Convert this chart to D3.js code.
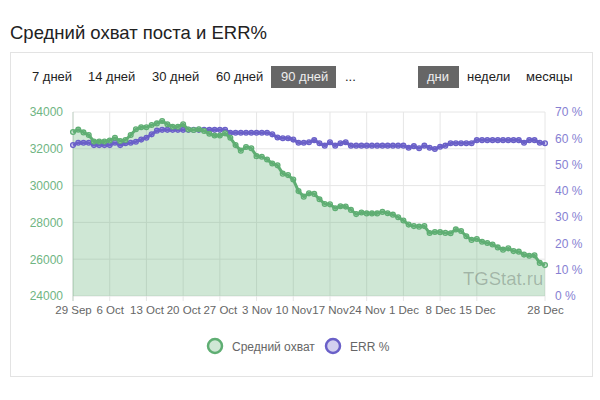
<!DOCTYPE html>
<html>
<head>
<meta charset="utf-8">
<script src="https://cdn.jsdelivr.net/npm/d3@7"></script>
<style>
  html, body { margin: 0; padding: 0; background: #fff; }
  body { width: 600px; height: 400px; overflow: hidden; font-family: "Liberation Sans", Arial, Helvetica, sans-serif; }
</style>
</head>
<body>
<svg id="chart" width="600" height="400"></svg>
<script>
// ---- data ----
const title = "Средний охват поста и ERR%";
const periodButtons = ["7 дней", "14 дней", "30 дней", "60 дней", "90 дней", "..."];
const groupButtons = ["дни", "недели", "месяцы"];
const tickDays = [0, 7, 14, 21, 28, 35, 42, 49, 56, 63, 70, 77, 90];
const tickLabels = ["29 Sep", "6 Oct", "13 Oct", "20 Oct", "27 Oct", "3 Nov", "10 Nov", "17 Nov", "24 Nov", "1 Dec", "8 Dec", "15 Dec", "28 Dec"];
const leftTicks = [24000, 26000, 28000, 30000, 32000, 34000];
const rightTicks = [0, 10, 20, 30, 40, 50, 60, 70];
const seriesNames = ["Средний охват", "ERR %"];
const reach = [
  32910, 33040, 32890, 32750, 32390, 32390, 32390, 32450, 32600, 32420,
  32480, 32750, 33060, 33170, 33170, 33290, 33380, 33510, 33330, 33200,
  33200, 33330, 33050, 33020, 33060, 32970, 32820, 32720, 32720, 32840,
  32600, 32200, 31900, 32100, 32030, 31600, 31570, 31420, 31200, 31100,
  30650, 30570, 30330, 29700, 29400, 29580, 29550, 29260, 29000, 28980,
  28770, 28880, 28860, 28680, 28450, 28540, 28490, 28490, 28490, 28570,
  28500, 28420, 28280, 28100, 27880, 27800, 27770, 27800, 27420, 27480,
  27470, 27430, 27410, 27620, 27530, 27250, 27050, 27100, 26950, 26880,
  26800, 26640, 26520, 26590, 26440, 26410, 26250, 26190, 26210, 25800,
  25680
];
const err = [
  57.4, 58.3, 58.3, 58.3, 57.4, 57.4, 57.4, 57.4, 58.3, 57.4,
  58.1, 58.3, 58.7, 59.5, 60.2, 61.5, 62.9, 63.2, 63.2, 63.2,
  63.2, 63.2, 63.2, 63.2, 63.2, 63.2, 63.2, 63.2, 63.2, 63.2,
  62.1, 62.1, 62.1, 62.1, 62.1, 62.1, 62.1, 62.1, 61.5, 60.3,
  60.0, 60.0, 59.5, 58.3, 58.3, 58.5, 59.3, 58.1, 57.2, 58.5,
  57.2, 58.1, 58.5, 57.2, 57.2, 57.2, 57.2, 57.2, 57.2, 57.2,
  57.2, 57.2, 57.2, 57.2, 56.4, 57.0, 56.2, 57.2, 56.4, 55.9,
  56.8, 57.2, 58.1, 58.1, 58.1, 58.1, 58.1, 59.3, 59.3, 59.3,
  59.3, 59.3, 59.3, 59.3, 59.3, 59.3, 58.3, 59.3, 59.3, 58.3,
  58.1
];

// ---- styles ----
const GREEN = "#5fae73", GREEN_FILL = "rgba(95,174,115,0.30)", GREEN_PT = "#cfe7d5", GREEN_TXT = "#6fb583";
const PURPLE = "#6a60c8", PURPLE_PT = "#d3d0ef", PURPLE_TXT = "#8680d2";

const svg = d3.select("#chart");

// title
svg.append("text").attr("x", 10).attr("y", 39)
  .attr("font-size", 18.5).attr("fill", "#222").text(title);

// card
svg.append("rect").attr("x", 10.5).attr("y", 52.5).attr("width", 582).attr("height", 324)
  .attr("fill", "#fff").attr("stroke", "#e3e3e3").attr("stroke-width", 1);

// buttons
const periodX = [32, 88, 152, 216, 281, 345];
periodButtons.forEach((b, i) => {
  if (i === 4) {
    svg.append("rect").attr("x", 271).attr("y", 66).attr("width", 65).attr("height", 22).attr("fill", "#666");
  }
  svg.append("text").attr("x", periodX[i]).attr("y", 81).attr("font-size", 13)
    .attr("fill", i === 4 ? "#eee" : "#222").text(b);
});
const groupX = [427, 467, 526];
groupButtons.forEach((b, i) => {
  if (i === 0) {
    svg.append("rect").attr("x", 418).attr("y", 66).attr("width", 41).attr("height", 22).attr("fill", "#666");
  }
  svg.append("text").attr("x", groupX[i]).attr("y", 81).attr("font-size", 13)
    .attr("fill", i === 0 ? "#eee" : "#222").text(b);
});

// ---- scales ----
const L = 73, R = 545, T = 112, B = 296;
const x = d3.scaleLinear().domain([0, reach.length - 1]).range([L, R]);
const yL = d3.scaleLinear().domain([24000, 34000]).range([B, T]);
const yR = d3.scaleLinear().domain([0, 70]).range([B, T]);

// gridlines
const grid = svg.append("g");
grid.selectAll("line.h").data(leftTicks).join("line")
  .attr("x1", L).attr("x2", R).attr("y1", d => yL(d)).attr("y2", d => yL(d))
  .attr("stroke", "#e6e6e6").attr("stroke-width", 1);
grid.selectAll("line.v").data(tickDays.slice(1)).join("line")
  .attr("x1", d => x(d)).attr("x2", d => x(d)).attr("y1", T).attr("y2", B + 5)
  .attr("stroke", "#e6e6e6").attr("stroke-width", 1);
// left axis line
grid.append("line").attr("x1", L).attr("x2", L).attr("y1", T).attr("y2", B + 5)
  .attr("stroke", "#b8c9bc").attr("stroke-width", 1);

// area
const idx = d3.range(reach.length);
svg.append("path").datum(idx)
  .attr("d", d3.area().x(i => x(i)).y0(B).y1(i => yL(reach[i])))
  .attr("fill", GREEN_FILL);

// watermark
svg.append("text").attr("x", 463).attr("y", 285).attr("font-size", 18.5)
  .attr("fill", "rgba(0,0,0,0.22)").attr("font-weight", 300).text("TGStat.ru");

// axes
const axL = d3.axisLeft(yL).tickValues(leftTicks).tickSize(0).tickPadding(10).tickFormat(d3.format("d"));
const gL = svg.append("g").attr("transform", `translate(${L},0)`).call(axL);
gL.select(".domain").remove();
gL.selectAll("text").attr("fill", GREEN_TXT).attr("font-size", 12).attr("font-family", "Liberation Sans, Arial, sans-serif");

const axR = d3.axisRight(yR).tickValues(rightTicks).tickSize(0).tickPadding(10).tickFormat(d => d + " %");
const gR = svg.append("g").attr("transform", `translate(${R},0)`).call(axR);
gR.select(".domain").remove();
gR.selectAll("text").attr("fill", PURPLE_TXT).attr("font-size", 12).attr("font-family", "Liberation Sans, Arial, sans-serif");

const axB = d3.axisBottom(x).tickValues(tickDays).tickSize(0).tickPadding(10)
  .tickFormat((d, i) => tickLabels[i]);
const gB = svg.append("g").attr("transform", `translate(0,${B})`).call(axB);
gB.select(".domain").remove();
gB.selectAll("text").attr("fill", "#666").attr("font-size", 11.5).attr("font-family", "Liberation Sans, Arial, sans-serif");

// series
function drawSeries(vals, yScale, color, ptFill) {
  const g = svg.append("g");
  g.selectAll("circle").data(idx).join("circle")
    .attr("cx", i => x(i)).attr("cy", i => yScale(vals[i])).attr("r", 2.4)
    .attr("fill", ptFill).attr("stroke", color).attr("stroke-width", 1.3);
  g.append("path").datum(idx)
    .attr("d", d3.line().x(i => x(i)).y(i => yScale(vals[i])))
    .attr("fill", "none").attr("stroke", color).attr("stroke-width", 3)
    .attr("stroke-linejoin", "round");
}
drawSeries(err, yR, PURPLE, PURPLE_PT);
drawSeries(reach, yL, GREEN, GREEN_PT);

// legend
const legend = [
  { name: seriesNames[0], cx: 215, color: GREEN, fill: GREEN_PT },
  { name: seriesNames[1], cx: 333, color: PURPLE, fill: PURPLE_PT }
];
legend.forEach(l => {
  svg.append("circle").attr("cx", l.cx).attr("cy", 346).attr("r", 7)
    .attr("fill", l.fill).attr("stroke", l.color).attr("stroke-width", 2.5);
  svg.append("text").attr("x", l.cx + 17).attr("y", 350.5).attr("font-size", 12)
    .attr("fill", "#666").text(l.name);
});
</script>
</body>
</html>
